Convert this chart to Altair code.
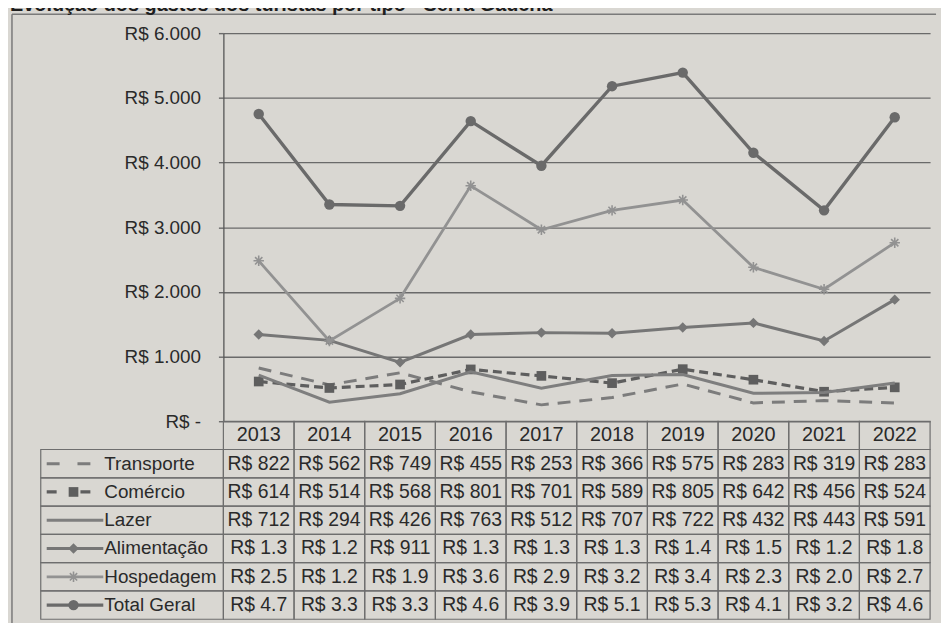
import altair as alt
import pandas as pd

# ---------------- data ----------------
years = ["2013", "2014", "2015", "2016", "2017", "2018", "2019", "2020", "2021", "2022"]
series = ["Transporte", "Comércio", "Lazer", "Alimentação", "Hospedagem", "Total Geral"]

transporte = [822, 562, 749, 455, 253, 366, 575, 283, 319, 283]
comercio = [614, 514, 568, 801, 701, 589, 805, 642, 456, 524]
lazer = [712, 294, 426, 763, 512, 707, 722, 432, 443, 591]
alimentacao = [1340, 1250, 911, 1340, 1370, 1360, 1450, 1520, 1240, 1880]
hospedagem = [2480, 1240, 1900, 3640, 2960, 3260, 3420, 2380, 2040, 2760]
total_geral = [4750, 3350, 3330, 4640, 3950, 5180, 5390, 4150, 3260, 4700]

tab_transporte = ["R$ 822", "R$ 562", "R$ 749", "R$ 455", "R$ 253", "R$ 366", "R$ 575", "R$ 283", "R$ 319", "R$ 283"]
tab_comercio = ["R$ 614", "R$ 514", "R$ 568", "R$ 801", "R$ 701", "R$ 589", "R$ 805", "R$ 642", "R$ 456", "R$ 524"]
tab_lazer = ["R$ 712", "R$ 294", "R$ 426", "R$ 763", "R$ 512", "R$ 707", "R$ 722", "R$ 432", "R$ 443", "R$ 591"]
tab_alimentacao = ["R$ 1.3", "R$ 1.2", "R$ 911", "R$ 1.3", "R$ 1.3", "R$ 1.3", "R$ 1.4", "R$ 1.5", "R$ 1.2", "R$ 1.8"]
tab_hospedagem = ["R$ 2.5", "R$ 1.2", "R$ 1.9", "R$ 3.6", "R$ 2.9", "R$ 3.2", "R$ 3.4", "R$ 2.3", "R$ 2.0", "R$ 2.7"]
tab_total = ["R$ 4.7", "R$ 3.3", "R$ 3.3", "R$ 4.6", "R$ 3.9", "R$ 5.1", "R$ 5.3", "R$ 4.1", "R$ 3.2", "R$ 4.6"]

y_ticks = [0, 1000, 2000, 3000, 4000, 5000, 6000]
title_text = "Evolução dos gastos dos turistas por tipo - Serra Gaúcha"

values_by_series = dict(zip(series, [transporte, comercio, lazer, alimentacao, hospedagem, total_geral]))
table_by_series = dict(zip(series, [tab_transporte, tab_comercio, tab_lazer, tab_alimentacao, tab_hospedagem, tab_total]))

# ---------------- styles ----------------
FONT = "Liberation Sans"
TXT = "#2a2a2a"
BG = "#d9d7d2"
GRID = "#6a6a6a"
ASTERISK = "M-1,0L1,0M0,-1L0,1M-0.7,-0.7L0.7,0.7M-0.7,0.7L0.7,-0.7"
NB = "\u00a0"

style = {
    "Transporte": dict(color="#7c7c7c", width=3, dash=[13, 9], shape=None),
    "Comércio": dict(color="#5e5e5e", width=3.2, dash=[9, 5], shape="square", size=95),
    "Lazer": dict(color="#7e7e7e", width=3, dash=None, shape=None),
    "Alimentação": dict(color="#767676", width=3, dash=None, shape="diamond", size=110),
    "Hospedagem": dict(color="#929292", width=2.8, dash=None, shape=ASTERISK, size=110),
    "Total Geral": dict(color="#6a6a6a", width=3.4, dash=None, shape="circle", size=110),
}

W = 712
H_TOP = 391
ROW_H = 28.5
rows = ["Ano"] + series
H_TAB = ROW_H * len(rows)

long_df = pd.DataFrame(
    [{"ano": y, "serie": s, "valor": v} for s in series for y, v in zip(years, values_by_series[s])]
)

# ---------------- top chart (lines) ----------------
x_top = alt.X("ano:O", scale=alt.Scale(type="point", domain=years, padding=0.5), axis=None)
y_top = alt.Y(
    "valor:Q",
    scale=alt.Scale(domain=[0, 6000], nice=False),
    axis=alt.Axis(
        values=y_ticks,
        labelExpr="datum.value == 0 ? 'R$ -" + NB + NB + "' : 'R$ ' + replace(format(datum.value, ','), ',', '.')",
        grid=True,
        gridColor=GRID,
        gridWidth=1.4,
        tickColor=GRID,
        tickWidth=1.4,
        tickSize=5,
        domainColor="#555555",
        domainWidth=1.3,
        labelFont=FONT,
        labelFontSize=19,
        labelColor=TXT,
        labelPadding=18,
        title=None,
    ),
)

one = pd.DataFrame({"a": [0]})
frame_top = alt.Chart(one).mark_rule(color="#7a7a7a", strokeWidth=1.5).encode(
    x=alt.value(-213), x2=alt.value(W + 6), y=alt.value(-19)
)
frame_left = alt.Chart(one).mark_rule(color="#7a7a7a", strokeWidth=1.5).encode(
    x=alt.value(-213), y=alt.value(-19), y2=alt.value(H_TOP + H_TAB + 6)
)
title = alt.Chart(one).mark_text(
    text=title_text, align="left", baseline="alphabetic", font=FONT, fontSize=20,
    fontWeight="bold", color="#1e1e1e"
).encode(x=alt.value(-215), y=alt.value(-22))

layers = [frame_top, frame_left, title]
for s in series:
    st = style[s]
    base = alt.Chart(long_df).transform_filter(alt.datum.serie == s)
    line_kw = dict(color=st["color"], strokeWidth=st["width"])
    if st["dash"]:
        line_kw["strokeDash"] = st["dash"]
    layers.append(base.mark_line(**line_kw).encode(x=x_top, y=y_top))
    if st["shape"] is not None:
        if st["shape"] == ASTERISK:
            pt = base.mark_point(shape=ASTERISK, filled=False, size=st["size"], color=st["color"],
                                 strokeWidth=1.6, opacity=1)
        else:
            pt = base.mark_point(shape=st["shape"], filled=True, size=st["size"], color=st["color"], opacity=1)
        layers.append(pt.encode(x=x_top, y=y_top))

top = alt.layer(*layers).properties(width=W, height=H_TOP)

# ---------------- table chart ----------------
x_tab = alt.X("ano:O", scale=alt.Scale(type="band", domain=years, paddingInner=0, paddingOuter=0), axis=None)
y_tab = alt.Y("linha:N", scale=alt.Scale(domain=rows, paddingInner=0, paddingOuter=0), axis=None)

cell_records = [{"linha": "Ano", "ano": y, "txt": y} for y in years]
for s in series:
    for y, t in zip(years, table_by_series[s]):
        cell_records.append({"linha": s, "ano": y, "txt": t})
cells_df = pd.DataFrame(cell_records)
header_df = cells_df[cells_df["linha"] == "Ano"]
body_df = cells_df[cells_df["linha"] != "Ano"]
label_df = pd.DataFrame({"linha": series})

cell_boxes = alt.Chart(cells_df).mark_rect(fillOpacity=0, stroke="#6e6e6e", strokeWidth=1.2).encode(
    x=x_tab, y=y_tab
)
header_text = alt.Chart(header_df).mark_text(font=FONT, fontSize=20, color=TXT).encode(
    x=x_tab, y=y_tab, text="txt:N"
)
cell_text = alt.Chart(body_df).mark_text(font=FONT, fontSize=19.5, color=TXT).encode(
    x=x_tab, y=y_tab, text="txt:N"
)
label_boxes = alt.Chart(label_df).mark_rect(fillOpacity=0, stroke="#6e6e6e", strokeWidth=1.2).encode(
    x=alt.value(-184), x2=alt.value(0), y=y_tab
)
label_text = alt.Chart(label_df).mark_text(font=FONT, fontSize=19, color=TXT, align="left").encode(
    x=alt.value(-120), y=y_tab, text="linha:N"
)

tab_layers = [cell_boxes, label_boxes, header_text, cell_text, label_text]
sym_ranges = {
    "Transporte": (-178, -133),
    "Comércio": (-178, -128),
    "Lazer": (-178, -121),
    "Alimentação": (-178, -121),
    "Hospedagem": (-178, -121),
    "Total Geral": (-178, -121),
}
for s in series:
    st = style[s]
    d = pd.DataFrame({"linha": [s]})
    rk = dict(color=st["color"], strokeWidth=st["width"])
    if st["dash"]:
        rk["strokeDash"] = [13, 18] if s == "Transporte" else [10, 24]
    x0, x1 = sym_ranges[s]
    tab_layers.append(alt.Chart(d).mark_rule(**rk).encode(x=alt.value(x0), x2=alt.value(x1), y=y_tab))
    if st["shape"] is not None:
        if st["shape"] == ASTERISK:
            pm = alt.Chart(d).mark_point(shape=ASTERISK, filled=False, size=st["size"], color=st["color"],
                                         strokeWidth=1.6, opacity=1)
        else:
            pm = alt.Chart(d).mark_point(shape=st["shape"], filled=True, size=st["size"], color=st["color"],
                                         opacity=1)
        tab_layers.append(pm.encode(x=alt.value(-151), y=y_tab))

table = alt.layer(*tab_layers).properties(width=W, height=H_TAB)

chart = (
    alt.vconcat(top, table, spacing=0, bounds="flush")
    .properties(padding={"left": 2, "top": -15, "right": 4, "bottom": 0})
    .configure(background=BG)
    .configure_view(stroke=None)
)

chart.save("out.html", embed_options={"renderer": "svg", "actions": False})
